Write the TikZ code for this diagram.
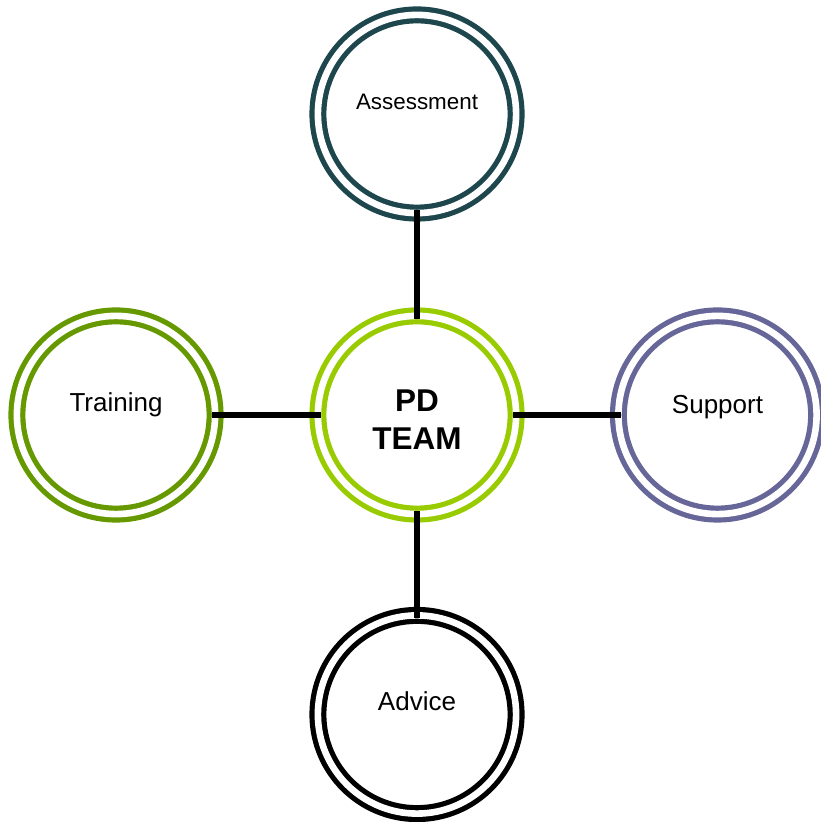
\documentclass[tikz,border=0pt]{standalone}
\usepackage{fontspec}
\setmainfont{Liberation Sans}
\definecolor{cteal}{RGB}{29,71,77}
\definecolor{cpd}{RGB}{153,204,0}
\definecolor{ctrain}{RGB}{102,153,0}
\definecolor{csupport}{RGB}{102,102,153}
\definecolor{cadvice}{RGB}{0,0,0}
\begin{document}
\begin{tikzpicture}[x=1pt,y=1pt,
  ring/.style={circle, draw=#1, line width=5.2pt, double=white, double distance=6.6pt,
    minimum size=198.2pt, inner sep=0pt, outer sep=0pt, fill=white},
  link/.style={line width=5.5pt, black, shorten <=-3pt, shorten >=-3pt},
  lab/.style={anchor=base, font=\fontsize{26}{30}\selectfont, text=black, inner sep=0pt},
  bigl/.style={anchor=base, font=\fontsize{31.5}{38}\selectfont\bfseries, text=black, inner sep=0pt}]
\useasboundingbox (0,0) rectangle (820,822);
\node[ring=cpd] (pd) at (417,407) {};
\node[ring=cteal] (as) at (417,708) {};
\node[ring=ctrain] (tr) at (116,407) {};
\node[ring=csupport] (su) at (717.5,407) {};
\node[ring=cadvice] (ad) at (417,107.5) {};
\draw[link] (as.south) -- (pd.north);
\draw[link] (tr.east) -- (pd.west);
\draw[link] (pd.east) -- (su.west);
\draw[link] (pd.south) -- (ad.north);
\node[lab, font=\fontsize{22.4}{26}\selectfont] (tas) at (417,712.7) {Assessment};
\node[lab] (ttr) at (116,410.3) {Training};
\node[lab] (tsu) at (717.5,408.7) {Support};
\node[lab] (tad) at (417,111.3) {Advice};
\node[bigl] (tpd) at (417,410.3) {PD};
\node[bigl] (ttm) at (417,372) {TEAM};
\end{tikzpicture}
\end{document}
